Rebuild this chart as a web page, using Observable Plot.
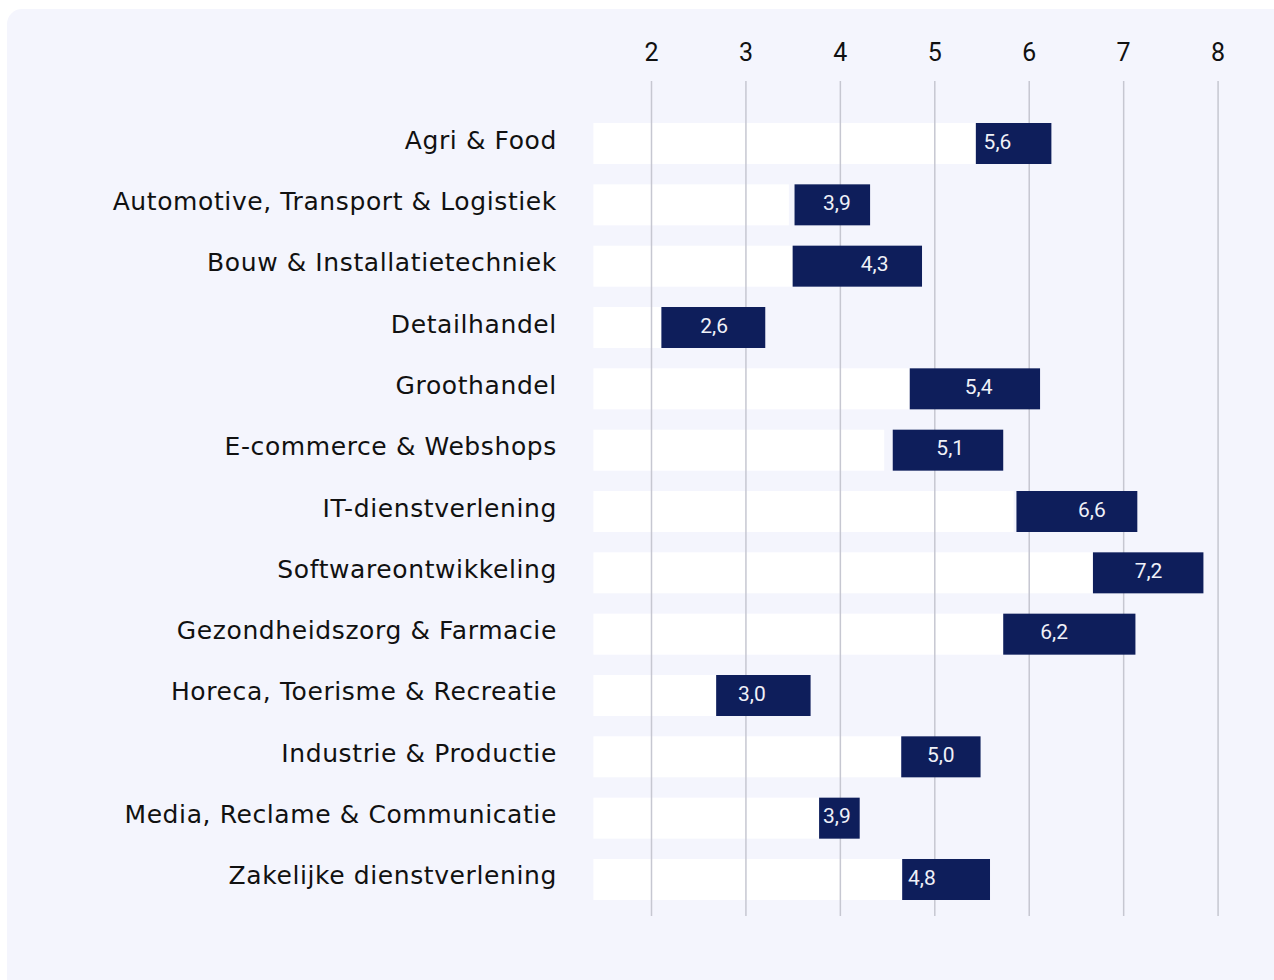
<!DOCTYPE html>
<html>
<head>
<meta charset="utf-8">
<script src="https://cdn.jsdelivr.net/npm/d3@7"></script>
<script src="https://cdn.jsdelivr.net/npm/@observablehq/plot@0.6"></script>
<style>
  html, body { margin: 0; padding: 0; background: #ffffff; width: 1274px; height: 980px; overflow: hidden; }
  #bg { position: absolute; left: 7px; top: 9px; width: 1282px; height: 1000px; background: #f4f5fd; border-radius: 15px; }
  #chart { position: absolute; left: 0; top: 0; }
  #chart g[aria-label="y-axis tick label"] text { letter-spacing: 0.6px; }
</style>
</head>
<body>
<div id="bg"></div>
<div id="chart"></div>
<script>
// Sectors (top to bottom)
const categories = [
  "Agri & Food",
  "Automotive, Transport & Logistiek",
  "Bouw & Installatietechniek",
  "Detailhandel",
  "Groothandel",
  "E-commerce & Webshops",
  "IT-dienstverlening",
  "Softwareontwikkeling",
  "Gezondheidszorg & Farmacie",
  "Horeca, Toerisme & Recreatie",
  "Industrie & Productie",
  "Media, Reclame & Communicatie",
  "Zakelijke dienstverlening"
];
// Labelled value per sector
const values = [5.6, 3.9, 4.3, 2.6, 5.4, 5.1, 6.6, 7.2, 6.2, 3.0, 5.0, 3.9, 4.8];
// Range (dark bar) low and high ends
const lows  = [5.44, 3.52, 3.50, 2.11, 4.74, 4.56, 5.87, 6.68, 5.73, 2.69, 4.65, 3.78, 4.66];
const highs = [6.24, 4.32, 4.87, 3.21, 6.12, 5.73, 7.15, 7.85, 7.13, 3.69, 5.49, 4.21, 5.59];
// End of the white track bar
const trackEnds = [5.44, 3.46, 3.50, 2.11, 4.74, 4.47, 5.84, 6.68, 5.73, 2.69, 4.65, 3.78, 4.66];
// Axis ticks
const xTicks = [2, 3, 4, 5, 6, 7, 8];
const xMin = 1.39, xMax = 8.5;

const data = categories.map((c, i) => ({
  cat: c, value: values[i], low: lows[i], high: highs[i], trackEnd: trackEnds[i],
  label: values[i].toFixed(1).replace(".", ",")
}));

const navy = "#0e1e5b";

const chart = Plot.plot({
  width: 1274,
  height: 980,
  marginLeft: 593.4,
  marginRight: 9.2,
  marginTop: 102.67,
  marginBottom: 59.67,
  style: { background: "transparent", fontFamily: "Roboto, sans-serif", overflow: "visible" },
  x: { domain: [xMin, xMax] },
  y: { domain: categories, padding: 0.3315, round: false },
  marks: [
    Plot.barX(data, { x1: () => xMin, x2: "trackEnd", y: "cat", fill: "#ffffff" }),
    Plot.ruleX(xTicks, { stroke: "#c6c7d1", strokeWidth: 1.5, insetTop: -21.67, insetBottom: 4.33 }),
    Plot.barX(data, { x1: "low", x2: "high", y: "cat", fill: navy }),
    Plot.text(data, { x: "value", y: "cat", text: "label", fill: "#f0f1f8", fontSize: 21, dx: 6, dy: -2, fontFamily: "Roboto, sans-serif" }),
    Plot.axisX({ anchor: "top", ticks: xTicks, tickSize: 0, tickPadding: 42, fontSize: 25, label: null, tickFormat: d => String(d), fill: "#111111" }),
    Plot.axisY({ anchor: "left", tickSize: 0, tickPadding: 37, fontSize: 25, label: null, dy: -3.5, fill: "#111111", fontFamily: "'DejaVu Sans', sans-serif" })
  ]
});
document.getElementById("chart").appendChild(chart);
</script>
</body>
</html>
